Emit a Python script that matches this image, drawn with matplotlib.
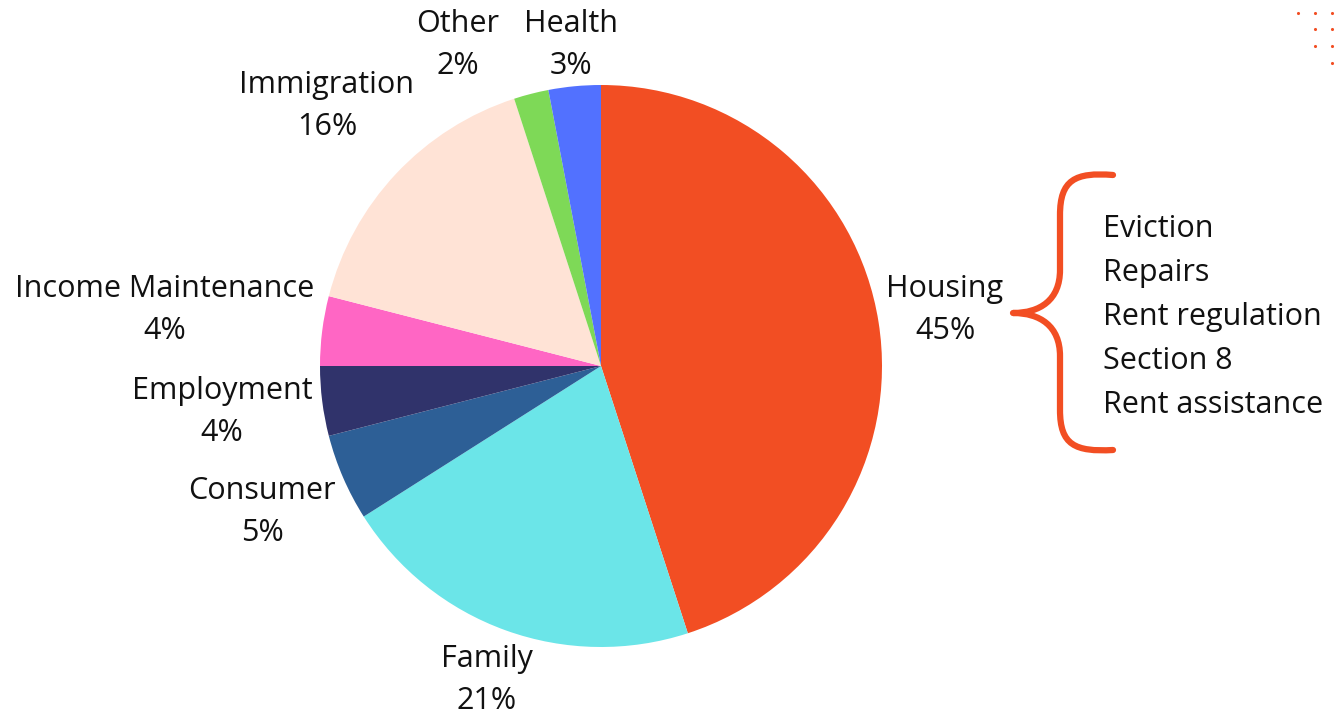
import matplotlib
matplotlib.use("Agg")
import matplotlib.pyplot as plt
from matplotlib.path import Path
from matplotlib.patches import PathPatch

categories = ["Housing", "Family", "Consumer", "Employment",
              "Income Maintenance", "Immigration", "Other", "Health"]
shares = [45, 21, 5, 4, 4, 16, 2, 3]
colors = ["#F24E23", "#6BE5E8", "#2D5F96", "#30336B",
          "#FF66C4", "#FFE3D6", "#7ED957", "#5271FF"]
housing_items = ["Eviction", "Repairs", "Rent regulation", "Section 8", "Rent assistance"]

# label centres in pixels (y measured from top)
label_pos = [(945, 310), (487, 680), (262, 512), (222, 412),
             (165, 310), (327, 106), (458, 45), (571, 45)]

W, H = 1343, 714
fig = plt.figure(figsize=(W / 100, H / 100), dpi=100)
ax = fig.add_axes([0, 0, 1, 1])
plt.rcParams['font.family'] = ['Open Sans', 'DejaVu Sans']
FS = 22

ax.pie(shares, colors=colors, startangle=90, counterclock=False,
       center=(601, H - 366), radius=281, frame=True,
       wedgeprops=dict(linewidth=0))

for name, val, (x, y) in zip(categories, shares, label_pos):
    ax.text(x, H - y, f"{name}\n{val}%", ha="center", va="center",
            fontsize=FS, linespacing=1.5, color="#111111")

for i, item in enumerate(housing_items):
    ax.text(1103, H - (229 + 44 * i), item, ha="left", va="center",
            fontsize=FS, color="#111111")

# curly brace
pts = [(1113, 175), (1075, 172), (1060, 180), (1060, 215),
       (1060, 270),
       (1060, 300), (1040, 313), (1013, 313),
       (1040, 313), (1060, 326), (1060, 356),
       (1060, 410),
       (1060, 445), (1075, 452), (1113, 450)]
codes = [Path.MOVETO, Path.CURVE4, Path.CURVE4, Path.CURVE4,
         Path.LINETO,
         Path.CURVE4, Path.CURVE4, Path.CURVE4,
         Path.CURVE4, Path.CURVE4, Path.CURVE4,
         Path.LINETO,
         Path.CURVE4, Path.CURVE4, Path.CURVE4]
brace = Path([(x, H - y) for x, y in pts], codes)
ax.add_patch(PathPatch(brace, fill=False, edgecolor="#F24E23",
                       linewidth=4.5, capstyle="round", joinstyle="round"))

# decorative dots top right
dx = [1298, 1315, 1332, 1315, 1332, 1315, 1332, 1332]
dy = [13, 13, 13, 29, 29, 46, 46, 63]
ax.scatter(dx, [H - v for v in dy], s=5, color="#F24E23", linewidths=0)

ax.set_xlim(0, W)
ax.set_ylim(0, H)
ax.set_aspect("equal")
ax.axis("off")
fig.savefig("out.png", dpi=100)
